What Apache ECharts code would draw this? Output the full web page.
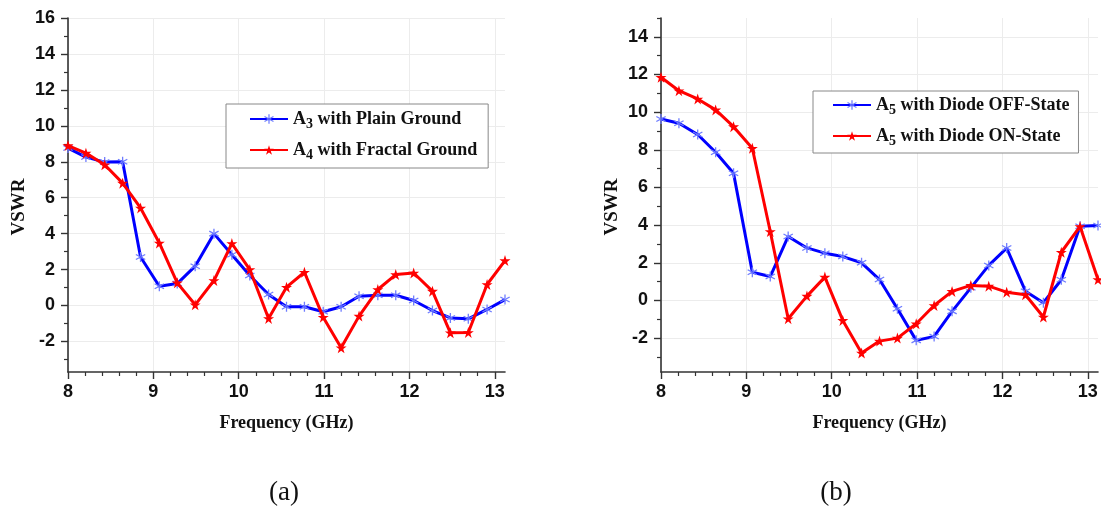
<!DOCTYPE html>
<html>
<head>
<meta charset="utf-8">
<script src="https://cdn.jsdelivr.net/npm/echarts@6/dist/echarts.min.js"></script>
<style>
  html, body { margin: 0; padding: 0; background: #fff; }
  #chart { width: 1101px; height: 512px; }
</style>
</head>
<body>
<div id="chart"></div>
<script>
// frequency points (GHz), shared by all four curves
var freqs = [8.00, 8.21, 8.43, 8.64, 8.85, 9.07, 9.28, 9.49, 9.71, 9.92, 10.13, 10.35, 10.56,
             10.77, 10.99, 11.20, 11.41, 11.63, 11.84, 12.05, 12.27, 12.48, 12.69, 12.91, 13.12];

// (a)
var plainA3 = [8.76, 8.26, 7.98, 8.0, 2.7, 1.07, 1.22, 2.19, 4.0, 2.83, 1.67, 0.61, -0.07,
               -0.07, -0.35, -0.07, 0.52, 0.57, 0.57, 0.28, -0.28, -0.69, -0.74, -0.22, 0.33];
var fractalA4 = [8.9, 8.48, 7.83, 6.81, 5.43, 3.48, 1.26, 0.04, 1.39, 3.45, 2.0, -0.72, 1.02,
                 1.85, -0.65, -2.35, -0.59, 0.89, 1.72, 1.81, 0.8, -1.52, -1.5, 1.17, 2.5];

// (b)
var diodeOff = [9.64, 9.41, 8.81, 7.87, 6.75, 1.5, 1.27, 3.4, 2.79, 2.51, 2.33, 2.0, 1.11,
                -0.44, -2.12, -1.91, -0.58, 0.67, 1.86, 2.78, 0.49, -0.12, 1.1, 3.94, 3.98];
var diodeOn = [11.85, 11.14, 10.7, 10.12, 9.23, 8.08, 3.66, -0.97, 0.23, 1.24, -1.06, -2.79, -2.16,
               -2.0, -1.24, -0.27, 0.48, 0.8, 0.76, 0.44, 0.3, -0.88, 2.56, 3.93, 1.11];

// tick positions
var xTicks = [8, 9, 10, 11, 12, 13];
var xMinor = [8.2, 8.4, 8.6, 8.8, 9.2, 9.4, 9.6, 9.8, 10.2, 10.4, 10.6, 10.8,
              11.2, 11.4, 11.6, 11.8, 12.2, 12.4, 12.6, 12.8];
var yTicksA = [-2, 0, 2, 4, 6, 8, 10, 12, 14, 16];
var yMinorA = [-3, -1, 1, 3, 5, 7, 9, 11, 13, 15];
var yTicksB = [-2, 0, 2, 4, 6, 8, 10, 12, 14];
var yMinorB = [-3, -1, 1, 3, 5, 7, 9, 11, 13, 15];

var legendText = {
  'A3 with Plain Ground': '{m|A}{s|3}{m| with Plain Ground}',
  'A4 with Fractal Ground': '{m|A}{s|4}{m| with Fractal Ground}',
  'A5 with Diode OFF-State': '{m|A}{s|5}{m| with Diode OFF-State}',
  'A5 with Diode ON-State': '{m|A}{s|5}{m| with Diode ON-State}'
};

var SANS = 'Liberation Sans, Arial, sans-serif';
var SERIF = 'Liberation Serif, Times New Roman, serif';

var starPath = 'path://M0,-1 L0.2245,-0.309 L0.951,-0.309 L0.363,0.118 L0.588,0.809 L0,0.382 L-0.588,0.809 L-0.363,0.118 L-0.951,-0.309 L-0.2245,-0.309 Z';
var asteriskPath = 'path://M-0.12,-1 L0.12,-1 L0.12,1 L-0.12,1 Z ' +
  'M-0.926,-0.396 L0.806,0.604 L0.926,0.396 L-0.806,-0.604 Z ' +
  'M-0.806,0.604 L0.926,-0.396 L0.806,-0.604 L-0.926,0.396 Z';

function pairs(ys) {
  return freqs.map(function (f, i) { return [f, ys[i]]; });
}

function mainX(gi) {
  return {
    type: 'value', gridIndex: gi, min: 8, max: 13.12, position: 'bottom',
    name: 'Frequency (GHz)', nameLocation: 'middle', nameGap: 42,
    nameTextStyle: { fontFamily: SERIF, fontWeight: 'bold', fontSize: 18, color: '#111' },
    axisLine: { onZero: false, lineStyle: { color: '#333', width: 1.6 } },
    axisTick: { show: true, customValues: xTicks, length: 7, lineStyle: { color: '#333', width: 1.4 } },
    axisLabel: { customValues: xTicks, margin: 11, fontFamily: SANS, fontWeight: 'bold', fontSize: 18, color: '#111' },
    splitLine: { show: true, lineStyle: { color: '#ececec', width: 1 } }
  };
}
function minorX(gi) {
  return {
    type: 'value', gridIndex: gi, min: 8, max: 13.12, position: 'bottom',
    axisLine: { show: false, onZero: false },
    axisTick: { show: true, customValues: xMinor, length: 4, lineStyle: { color: '#333', width: 1.2 } },
    axisLabel: { show: false },
    splitLine: { show: false }
  };
}
function mainY(gi, min, max, ticks) {
  return {
    type: 'value', gridIndex: gi, min: min, max: max, position: 'left',
    axisLine: { show: true, onZero: false, lineStyle: { color: '#333', width: 1.6 } },
    axisTick: { show: true, customValues: ticks, length: 7, lineStyle: { color: '#333', width: 1.4 } },
    axisLabel: { customValues: ticks, margin: 13, fontFamily: SANS, fontWeight: 'bold', fontSize: 18, color: '#111' },
    splitLine: { show: true, lineStyle: { color: '#ececec', width: 1 } }
  };
}
function minorY(gi, min, max, ticks) {
  return {
    type: 'value', gridIndex: gi, min: min, max: max, position: 'left',
    axisLine: { show: false, onZero: false },
    axisTick: { show: true, customValues: ticks, length: 4, lineStyle: { color: '#333', width: 1.2 } },
    axisLabel: { show: false },
    splitLine: { show: false }
  };
}

function lineSeries(name, gi, ys, color, symbol, symColor, symSize) {
  return {
    type: 'line', name: name, xAxisIndex: gi, yAxisIndex: gi,
    data: pairs(ys), clip: false,
    symbol: symbol, symbolSize: symSize, showAllSymbol: true,
    lineStyle: { color: color, width: 3 },
    itemStyle: { color: symColor },
    emphasis: { disabled: true },
    z: color === '#ff0000' ? 3 : 2
  };
}

function legendFor(names, left, top, pad, gap) {
  return {
    show: true, orient: 'vertical', left: left, top: top,
    data: names, itemWidth: 38, itemHeight: 12, itemGap: gap,
    padding: pad,
    backgroundColor: '#fff', borderColor: '#888', borderWidth: 1, borderRadius: 0,
    selectedMode: false,
    formatter: function (n) { return legendText[n]; },
    textStyle: {
      fontFamily: SERIF, fontWeight: 'bold', fontSize: 18, color: '#111',
      rich: {
        m: { fontFamily: SERIF, fontWeight: 'bold', fontSize: 18, lineHeight: 24, color: '#111' },
        s: { fontFamily: SERIF, fontWeight: 'bold', fontSize: 14, lineHeight: 24, verticalAlign: 'bottom', color: '#111' }
      }
    }
  };
}

var chart = echarts.init(document.getElementById('chart'), null, { renderer: 'canvas' });

var option = {
  backgroundColor: '#fff',
  animation: false,
  grid: [
    { left: 68, top: 18, width: 437, height: 354 },
    { left: 661, top: 18, width: 437, height: 354 }
  ],
  xAxis: [mainX(0), mainX(1), minorX(0), minorX(1)],
  yAxis: [
    mainY(0, -3.7, 16, yTicksA), mainY(1, -3.8, 15, yTicksB),
    minorY(0, -3.7, 16, yMinorA), minorY(1, -3.8, 15, yMinorB)
  ],
  legend: [
    legendFor(['A3 with Plain Ground', 'A4 with Fractal Ground'], 226, 104, [6, 11, 6, 23], 10),
    legendFor(['A5 with Diode OFF-State', 'A5 with Diode ON-State'], 813, 91, [5, 9, 5, 19], 10)
  ],
  series: [
    lineSeries('A3 with Plain Ground', 0, plainA3, '#0000ff', asteriskPath, '#6f7dff', 10),
    lineSeries('A4 with Fractal Ground', 0, fractalA4, '#ff0000', starPath, '#ff0000', 11),
    lineSeries('A5 with Diode OFF-State', 1, diodeOff, '#0000ff', asteriskPath, '#6f7dff', 10),
    lineSeries('A5 with Diode ON-State', 1, diodeOn, '#ff0000', starPath, '#ff0000', 11)
  ],
  graphic: [
    { type: 'text', x: 19, y: 207, rotation: Math.PI / 2,
      style: { text: 'VSWR', align: 'center', verticalAlign: 'middle', font: 'bold 19px ' + SERIF, fill: '#111' } },
    { type: 'text', x: 612, y: 207, rotation: Math.PI / 2,
      style: { text: 'VSWR', align: 'center', verticalAlign: 'middle', font: 'bold 19px ' + SERIF, fill: '#111' } },
    { type: 'text', x: 284, y: 493,
      style: { text: '(a)', align: 'center', verticalAlign: 'middle', font: '27px ' + SERIF, fill: '#111' } },
    { type: 'text', x: 836, y: 493,
      style: { text: '(b)', align: 'center', verticalAlign: 'middle', font: '27px ' + SERIF, fill: '#111' } }
  ]
};

chart.setOption(option);
</script>
</body>
</html>
